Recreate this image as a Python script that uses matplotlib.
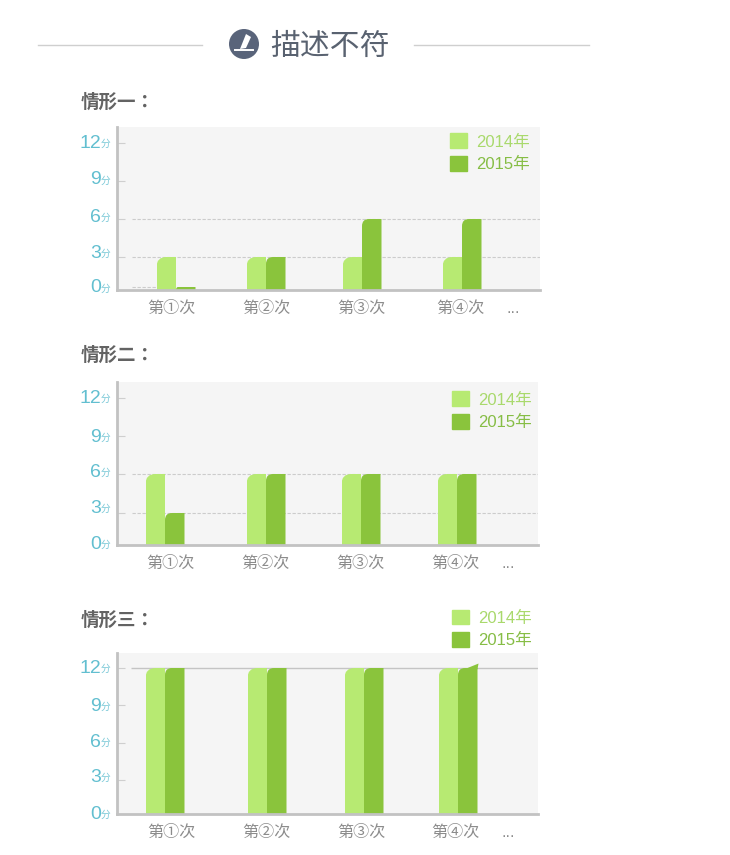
import numpy as np
import matplotlib
matplotlib.use("Agg")
import matplotlib.pyplot as plt
from matplotlib.patches import Circle, Polygon, Patch
from matplotlib.path import Path
from matplotlib.ticker import NullLocator
from matplotlib.transforms import Affine2D, IdentityTransform, blended_transform_factory

# ---- data ----
title = "描述不符"
panel_titles = ["情形一：", "情形二：", "情形三："]
series_names = ["2014年", "2015年"]
tick_values = [0, 3, 6, 9, 12]
category_labels = ["第①次", "第②次", "第③次", "第④次", "..."]
values_2014 = [[3, 3, 3, 3], [6, 6, 6, 6], [12, 12, 12, 12]]
values_2015 = [[0.3, 3, 6, 6], [3, 6, 6, 6], [12, 12, 12, 12]]

# ---- layout (pixels of the 730x855 canvas) ----
W, H = 730, 855
boxes = [(117, 127, 540, 290), (117, 382, 538, 545), (117, 653, 538, 814)]
tick_heights = [[0, 33, 71, 109, 147], [0, 32, 71, 109, 147], [0, 34, 71, 109, 146]]
label_shift = [[4, 6, 4, 3, 2], [3, 7, 4, 1, 2], [2, 5, 3, 1, 2]]
group_x = [[176, 266, 362, 462], [165, 266, 361, 457], [165, 267, 364, 458]]
label_x = [[171, 266, 361, 460, 513], [170, 265, 360, 455, 508], [171, 266, 361, 455, 508]]
grid_vals = [[3, 6], [3, 6], [12]]
legend_xy = [(450, 133), (452, 391), (452, 609)]
title_y = [100, 353, 618]
bar_w = 19.5

C14, C15 = "#b7ea72", "#8ac43c"
TEAL, GREY = "#62bfd0", "#8c8c8c"
CJK = ["Liberation Sans", "Noto Sans CJK SC", "DejaVu Sans"]
CJK_TC = ["Noto Sans CJK TC", "DejaVu Sans"]
plt.rcParams["font.family"] = CJK

fig = plt.figure(figsize=(W / 100, H / 100), dpi=100, facecolor="white")


def corner_clip(ax, bar, rad):
    (x0, y0), (x1, y1) = ax.transData.transform(
        [(bar.get_x(), 0), (bar.get_x() + bar.get_width(), bar.get_height())])
    r = min(rad, y1 - y0)
    verts = [(x0, y0 - 3), (x0, y1 - r), (x0, y1), (x0 + r, y1), (x1, y1), (x1, y0 - 3), (x0, y0 - 3)]
    codes = [Path.MOVETO, Path.LINETO, Path.CURVE3, Path.CURVE3, Path.LINETO, Path.LINETO, Path.CLOSEPOLY]
    bar.set_clip_path(Path(verts, codes), IdentityTransform())


for i, (l, t, r, b) in enumerate(boxes):
    ax = fig.add_axes([l / W, 1 - b / H, (r - l) / W, (b - t) / H], facecolor="#f5f5f5")
    hs = tick_heights[i] + [tick_heights[i][-1] + 38]
    vs = tick_values + [15]
    fwd = lambda v, hs=hs, vs=vs: np.interp(v, vs, hs)
    inv = lambda h, hs=hs, vs=vs: np.interp(h, hs, vs)
    ax.set_yscale("function", functions=(fwd, inv))
    ax.set_xlim(l, r)
    ax.set_ylim(0, float(inv(b - t)))

    xs = np.array(group_x[i], dtype=float)
    b14 = ax.bar(xs - bar_w, values_2014[i], bar_w, align="edge", color=C14, zorder=3)
    b15 = ax.bar(xs, values_2015[i], bar_w, align="edge", color=C15, zorder=3)
    for bb in b14:
        corner_clip(ax, bb, 10)
    for bb in b15:
        corner_clip(ax, bb, 7)

    if i == 2:
        ax.hlines(grid_vals[i], l + 14, r, color="#c4c4c4", lw=1, zorder=1)
        ax.fill([xs[3] + 8, xs[3] + bar_w + 1, xs[3] + bar_w], [11.95, 12.35, 11.9], color=C15, lw=0, zorder=3)
    else:
        ax.hlines(grid_vals[i], l + 15, r, color="#cccccc", lw=0.8, linestyles=(0, (3, 1.5)), zorder=1)
    if i == 0:
        ax.hlines([0.3], l + 15, xs[0] - bar_w, color="#cccccc", lw=0.8, linestyles=(0, (3, 1.5)), zorder=1)

    for s in ("top", "right"):
        ax.spines[s].set_visible(False)
    for s in ("left", "bottom"):
        ax.spines[s].set_color("#c2c2c2")
        ax.spines[s].set_linewidth(2)
        ax.spines[s].set_zorder(4)

    ax.set_yticks(tick_values)
    ax.set_yticklabels([str(v) for v in tick_values], color=TEAL, fontsize=14)
    ax.tick_params(axis="y", direction="in", length=6, width=0.8, color="#cfcfcf", pad=11.5)
    ax.yaxis.get_major_ticks()[0].tick1line.set_visible(False)
    ax.yaxis.set_minor_locator(NullLocator())
    trans = blended_transform_factory(ax.transAxes, ax.transData)
    for v, tick, dy in zip(tick_values, ax.yaxis.get_major_ticks(), label_shift[i]):
        lab = tick.label1
        lab.set_transform(lab.get_transform() + Affine2D().translate(0, dy))
        ax.annotate("分", xy=(0, v), xycoords=trans, xytext=(-16.5, dy - 3), textcoords="offset pixels",
                    ha="left", va="center", color=TEAL, fontsize=7, alpha=0.85)

    ax.set_xticks(label_x[i])
    ax.set_xticklabels(category_labels, color=GREY, fontsize=11.6)
    ax.tick_params(axis="x", length=0, pad=8)

    lx, ly = legend_xy[i]
    handles = [Patch(color=C14), Patch(color=C15)]
    ax.legend(handles, series_names, loc="upper left", bbox_to_anchor=(lx / W, 1 - (ly + 0.5) / H),
              bbox_transform=fig.transFigure, frameon=False, fontsize=12, borderpad=0, borderaxespad=0,
              handlelength=1.0, handleheight=1.0, handletextpad=0.58, labelspacing=0.38,
              labelcolor=["#a9d96c", "#86bd45"])

# overlay in canvas pixels: heading, rules, icon, panel headings
ov = fig.add_axes([0, 0, 1, 1], facecolor="none")
ov.set_xlim(0, W)
ov.set_ylim(H, 0)
ov.axis("off")
ov.plot([38, 202], [45, 45], color="#cfcfcf", lw=1)
ov.plot([414, 589], [45, 45], color="#cfcfcf", lw=1)
ov.add_patch(Circle((244, 44), 15, color="#59647a", lw=0))
ov.add_patch(Polygon([(246, 34), (251, 37), (246, 48), (240, 49)], closed=True, color="white", lw=0))
ov.plot([235, 253], [50.5, 50.5], color="white", lw=1.4)
ov.text(270, 47, title, fontsize=21.5, color="#596270", va="center", ha="left", family=CJK)
for txt, y in zip(panel_titles, title_y):
    ov.text(81, y + 2, txt, fontsize=13.3, color="#636363", va="center", ha="left", weight="bold", family=CJK_TC)

fig.savefig("out.png", dpi=100, facecolor="white")
